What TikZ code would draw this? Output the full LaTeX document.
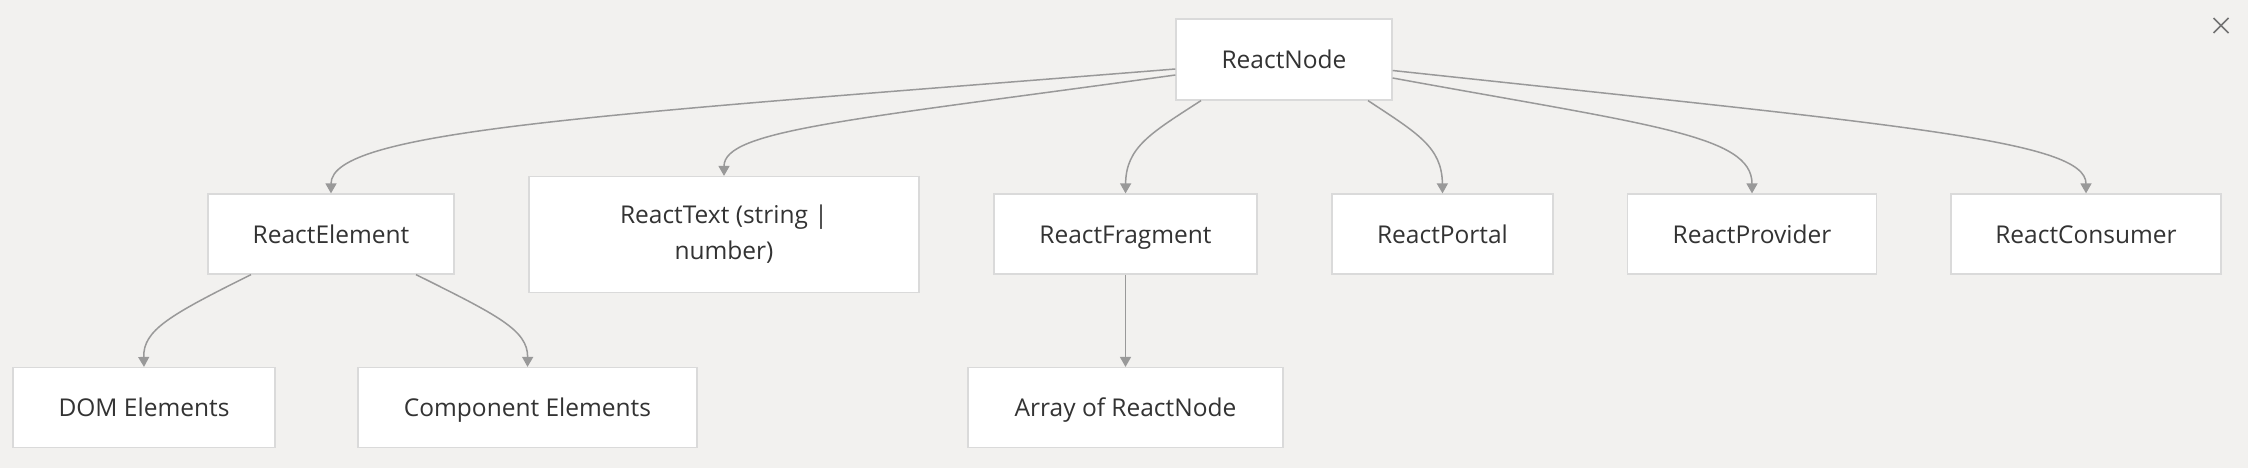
\documentclass[tikz,border=0pt]{standalone}
\usepackage{fontspec}
\setmainfont{Open Sans}
\usetikzlibrary{arrows.meta}
\definecolor{bgcol}{RGB}{242,241,239}
\definecolor{boxline}{RGB}{218,218,218}
\definecolor{linkgray}{RGB}{153,153,153}
\definecolor{txt}{RGB}{51,51,51}
\begin{document}
\begin{tikzpicture}[x=1pt, y=-1pt,
          box/.style={draw=boxline, fill=white, line width=1.2pt, text=txt,
            font=\fontsize{24.5}{36}\selectfont, align=center,
            minimum height=80pt, inner sep=0pt},
          one line/.style={text height=22pt, text depth=4pt},
          link/.style={draw=linkgray, line width=1.5pt,
            -{Triangle[length=10pt, width=11pt]}}]
          \fill[bgcol] (0,0) rectangle (2248,468);
          \useasboundingbox (0,0) rectangle (2248,468);
          % top level
          \node[box, one line, minimum width=216pt, minimum height=81pt] (RN) at (1284, 59.5) {ReactNode};
          % second level
          \node[box, one line, minimum width=246pt] (RE) at (331, 234) {ReactElement};
          \node[box, minimum width=390pt, minimum height=116pt] (RT) at (724, 234.5) {ReactText (string |\\ number)};
          \node[box, one line, minimum width=263pt] (RF) at (1125.5, 234) {ReactFragment};
          \node[box, one line, minimum width=221pt] (RP) at (1442.5, 234) {ReactPortal};
          \node[box, one line, minimum width=249pt] (RPr) at (1752, 234) {ReactProvider};
          \node[box, one line, minimum width=270pt] (RC) at (2086, 234) {ReactConsumer};
          % third level
          \node[box, one line, minimum width=262pt] (DOM) at (144, 407.5) {DOM Elements};
          \node[box, one line, minimum width=339pt] (CE) at (527.5, 407.5) {Component Elements};
          \node[box, one line, minimum width=315pt] (AR) at (1125.5, 407.5) {Array of ReactNode};
          % links from ReactNode
          \draw[link] ([yshift=-9.5pt]RN.west) .. controls (600,115) and (331,130) .. (RE.north);
          \draw[link] ([yshift=-15.5pt]RN.west) .. controls (850,120) and (724,130) .. (RT.north);
          \draw[link] ([xshift=-83pt]RN.south) .. controls (1151,133) and (1126,147) .. (RF.north);
          \draw[link] ([xshift=84pt]RN.south) .. controls (1417,133) and (1442,147) .. (RP.north);
          \draw[link] ([yshift=-18.5pt]RN.east) .. controls (1650,125) and (1752,135) .. (RPr.north);
          \draw[link] ([yshift=-11pt]RN.east) .. controls (1900,125) and (2086,140) .. (RC.north);
          % links below
          \draw[link] ([xshift=-80pt]RE.south) .. controls (170,315) and (143,330) .. (DOM.north);
          \draw[link] ([xshift=85pt]RE.south) .. controls (497,315) and (528,330) .. (CE.north);
          \draw[link] (RF.south) -- (AR.north);
          % close icon
          \draw[gray!90!black, line width=1.5pt] (2213.5,18) -- (2228.5,33) (2213.5,33) -- (2228.5,18);
\end{tikzpicture}
\end{document}
